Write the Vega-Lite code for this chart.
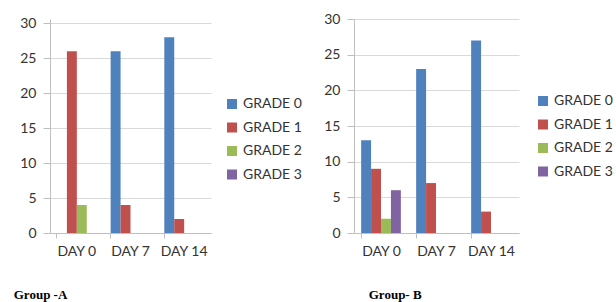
{
  "$schema": "https://vega.github.io/schema/vega-lite/v6.json",
  "padding": {"left": 13, "top": 12, "right": 0, "bottom": 0},
  "background": "white",
  "datasets": {
    "groupA": [
      {"day": "DAY 0", "grade": "GRADE 1", "value": 26},
      {"day": "DAY 0", "grade": "GRADE 2", "value": 4},
      {"day": "DAY 7", "grade": "GRADE 0", "value": 26},
      {"day": "DAY 7", "grade": "GRADE 1", "value": 4},
      {"day": "DAY 14", "grade": "GRADE 0", "value": 28},
      {"day": "DAY 14", "grade": "GRADE 1", "value": 2}
    ],
    "groupB": [
      {"day": "DAY 0", "grade": "GRADE 0", "value": 13},
      {"day": "DAY 0", "grade": "GRADE 1", "value": 9},
      {"day": "DAY 0", "grade": "GRADE 2", "value": 2},
      {"day": "DAY 0", "grade": "GRADE 3", "value": 6},
      {"day": "DAY 7", "grade": "GRADE 0", "value": 23},
      {"day": "DAY 7", "grade": "GRADE 1", "value": 7},
      {"day": "DAY 14", "grade": "GRADE 0", "value": 27},
      {"day": "DAY 14", "grade": "GRADE 1", "value": 3}
    ]
  },
  "spacing": 21,
  "resolve": {"legend": {"color": "independent"}, "scale": {"color": "independent"}},
  "hconcat": [
    {
      "data": {"name": "groupA"},
      "width": 161,
      "height": 214,
      "title": {"text": "Group -A", "orient": "bottom", "anchor": "start", "dx": -6, "offset": 31},
      "mark": {"type": "bar"},
      "encoding": {
        "x": {"field": "day", "type": "nominal", "sort": ["DAY 0", "DAY 7", "DAY 14"], "title": null,
              "scale": {"paddingInner": 0.26, "paddingOuter": 0.13}},
        "xOffset": {"field": "grade", "type": "nominal", "scale": {"domain": ["GRADE 0", "GRADE 1", "GRADE 2", "GRADE 3"], "paddingInner": 0, "paddingOuter": 0}},
        "y": {"field": "value", "type": "quantitative", "title": null,
              "scale": {"domain": [0, 30.6], "nice": false},
              "axis": {"values": [0, 5, 10, 15, 20, 25, 30]}},
        "color": {"field": "grade", "type": "nominal",
                  "scale": {"domain": ["GRADE 0", "GRADE 1", "GRADE 2", "GRADE 3"], "range": ["#4F81BD", "#C0504D", "#9BBB59", "#8064A2"]},
                  "legend": {"title": null, "orient": "none", "legendX": 175, "legendY": 78}}
      }
    },
    {
      "data": {"name": "groupB"},
      "width": 165,
      "height": 214,
      "title": {"text": "Group- B", "orient": "bottom", "anchor": "start", "dx": 45, "offset": 31},
      "mark": {"type": "bar"},
      "encoding": {
        "x": {"field": "day", "type": "nominal", "sort": ["DAY 0", "DAY 7", "DAY 14"], "title": null,
              "scale": {"paddingInner": 0.26, "paddingOuter": 0.13}},
        "xOffset": {"field": "grade", "type": "nominal", "scale": {"domain": ["GRADE 0", "GRADE 1", "GRADE 2", "GRADE 3"], "paddingInner": 0, "paddingOuter": 0}},
        "y": {"field": "value", "type": "quantitative", "title": null,
              "scale": {"domain": [0, 30], "nice": false},
              "axis": {"values": [0, 5, 10, 15, 20, 25, 30]}},
        "color": {"field": "grade", "type": "nominal",
                  "scale": {"domain": ["GRADE 0", "GRADE 1", "GRADE 2", "GRADE 3"], "range": ["#4F81BD", "#C0504D", "#9BBB59", "#8064A2"]},
                  "legend": {"title": null, "orient": "none", "legendX": 182, "legendY": 75}}
      }
    }
  ],
  "config": {
    "view": {"stroke": null},
    "font": "Lato",
    "title": {"font": "Liberation Serif", "fontSize": 13, "fontWeight": "bold", "color": "#000"},
    "axis": {"labelFont": "Lato", "labelFontSize": 14, "labelColor": "#333", "domainColor": "#BFBFBF", "tickColor": "#BFBFBF", "gridColor": "#D9D9D9"},
    "axisX": {"bandPosition": 0, "tickSize": 5, "labelPadding": 6, "labelAngle": 0, "grid": false},
    "axisY": {"tickSize": 7, "labelPadding": 7, "grid": true},
    "legend": {"labelFont": "Lato", "labelFontSize": 14, "labelColor": "#333", "symbolType": "square", "symbolSize": 100, "symbolStrokeWidth": 0, "rowPadding": 9.5, "labelOffset": 4, "symbolOpacity": 1}
  }
}
